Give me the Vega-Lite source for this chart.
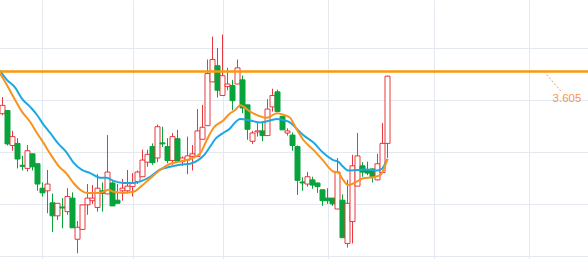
{
  "$schema": "https://vega.github.io/schema/vega-lite/v6.json",
  "width": 588,
  "height": 259,
  "padding": 0,
  "autosize": {"type": "none"},
  "background": "white",
  "config": {
    "view": {"stroke": null},
    "axis": {"domain": false, "ticks": false, "labels": false, "title": null, "gridColor": "#e4e9f0", "gridWidth": 1, "minExtent": 0, "maxExtent": 0, "offset": 0, "labelPadding": 0, "tickSize": 0}
  },
  "datasets": {
    "candles": [
      {"i":1,"o":3.524,"h":3.556,"l":3.521,"c":3.540},
      {"i":2,"o":3.530,"h":3.530,"l":3.463,"c":3.466},
      {"i":3,"o":3.463,"h":3.491,"l":3.453,"c":3.480},
      {"i":4,"o":3.467,"h":3.477,"l":3.419,"c":3.437},
      {"i":5,"o":3.425,"h":3.443,"l":3.415,"c":3.423},
      {"i":6,"o":3.419,"h":3.464,"l":3.413,"c":3.453},
      {"i":7,"o":3.447,"h":3.447,"l":3.415,"c":3.422},
      {"i":8,"o":3.428,"h":3.428,"l":3.376,"c":3.389},
      {"i":9,"o":3.381,"h":3.392,"l":3.365,"c":3.372},
      {"i":10,"o":3.376,"h":3.416,"l":3.333,"c":3.389},
      {"i":11,"o":3.353,"h":3.371,"l":3.297,"c":3.328},
      {"i":12,"o":3.328,"h":3.352,"l":3.320,"c":3.352},
      {"i":13,"o":3.345,"h":3.362,"l":3.304,"c":3.343},
      {"i":14,"o":3.336,"h":3.381,"l":3.330,"c":3.365},
      {"i":15,"o":3.362,"h":3.373,"l":3.305,"c":3.305},
      {"i":16,"o":3.283,"h":3.318,"l":3.256,"c":3.306},
      {"i":17,"o":3.302,"h":3.349,"l":3.302,"c":3.349},
      {"i":18,"o":3.349,"h":3.389,"l":3.330,"c":3.362},
      {"i":19,"o":3.357,"h":3.387,"l":3.351,"c":3.362},
      {"i":20,"o":3.344,"h":3.408,"l":3.336,"c":3.381},
      {"i":21,"o":3.376,"h":3.392,"l":3.336,"c":3.371},
      {"i":22,"o":3.370,"h":3.483,"l":3.370,"c":3.412},
      {"i":23,"o":3.391,"h":3.394,"l":3.347,"c":3.347},
      {"i":24,"o":3.358,"h":3.389,"l":3.352,"c":3.352},
      {"i":25,"o":3.376,"h":3.399,"l":3.357,"c":3.381},
      {"i":26,"o":3.376,"h":3.416,"l":3.371,"c":3.385},
      {"i":27,"o":3.384,"h":3.410,"l":3.365,"c":3.391},
      {"i":28,"o":3.394,"h":3.415,"l":3.389,"c":3.412},
      {"i":29,"o":3.403,"h":3.455,"l":3.403,"c":3.435},
      {"i":30,"o":3.431,"h":3.455,"l":3.422,"c":3.446},
      {"i":31,"o":3.461,"h":3.467,"l":3.426,"c":3.430},
      {"i":32,"o":3.439,"h":3.503,"l":3.431,"c":3.499},
      {"i":33,"o":3.468,"h":3.499,"l":3.460,"c":3.466},
      {"i":34,"o":3.461,"h":3.477,"l":3.429,"c":3.434},
      {"i":35,"o":3.434,"h":3.487,"l":3.426,"c":3.480},
      {"i":36,"o":3.476,"h":3.493,"l":3.433,"c":3.433},
      {"i":37,"o":3.432,"h":3.442,"l":3.424,"c":3.439},
      {"i":38,"o":3.435,"h":3.480,"l":3.408,"c":3.443},
      {"i":39,"o":3.442,"h":3.464,"l":3.415,"c":3.447},
      {"i":40,"o":3.442,"h":3.533,"l":3.442,"c":3.491},
      {"i":41,"o":3.475,"h":3.541,"l":3.475,"c":3.498},
      {"i":42,"o":3.501,"h":3.628,"l":3.501,"c":3.601},
      {"i":43,"o":3.585,"h":3.672,"l":3.585,"c":3.628},
      {"i":44,"o":3.616,"h":3.650,"l":3.555,"c":3.569},
      {"i":45,"o":3.559,"h":3.676,"l":3.559,"c":3.597},
      {"i":46,"o":3.576,"h":3.612,"l":3.569,"c":3.581},
      {"i":47,"o":3.578,"h":3.589,"l":3.531,"c":3.549},
      {"i":48,"o":3.581,"h":3.628,"l":3.581,"c":3.612},
      {"i":49,"o":3.589,"h":3.597,"l":3.525,"c":3.535},
      {"i":50,"o":3.541,"h":3.541,"l":3.474,"c":3.494},
      {"i":51,"o":3.471,"h":3.491,"l":3.466,"c":3.487},
      {"i":52,"o":3.489,"h":3.506,"l":3.480,"c":3.491},
      {"i":53,"o":3.491,"h":3.510,"l":3.471,"c":3.482},
      {"i":54,"o":3.482,"h":3.552,"l":3.482,"c":3.533},
      {"i":55,"o":3.537,"h":3.572,"l":3.528,"c":3.559},
      {"i":56,"o":3.566,"h":3.570,"l":3.528,"c":3.528},
      {"i":57,"o":3.519,"h":3.519,"l":3.493,"c":3.493},
      {"i":58,"o":3.487,"h":3.496,"l":3.482,"c":3.491},
      {"i":59,"o":3.483,"h":3.488,"l":3.453,"c":3.463},
      {"i":60,"o":3.461,"h":3.463,"l":3.368,"c":3.396},
      {"i":61,"o":3.393,"h":3.402,"l":3.376,"c":3.391},
      {"i":62,"o":3.389,"h":3.412,"l":3.384,"c":3.403},
      {"i":63,"o":3.397,"h":3.403,"l":3.380,"c":3.387},
      {"i":64,"o":3.391,"h":3.392,"l":3.372,"c":3.384},
      {"i":65,"o":3.378,"h":3.378,"l":3.347,"c":3.357},
      {"i":66,"o":3.362,"h":3.381,"l":3.351,"c":3.357},
      {"i":67,"o":3.362,"h":3.362,"l":3.347,"c":3.351},
      {"i":68,"o":3.341,"h":3.439,"l":3.341,"c":3.412},
      {"i":69,"o":3.358,"h":3.369,"l":3.286,"c":3.286},
      {"i":70,"o":3.275,"h":3.397,"l":3.267,"c":3.352},
      {"i":71,"o":3.317,"h":3.445,"l":3.275,"c":3.424},
      {"i":72,"o":3.385,"h":3.487,"l":3.385,"c":3.443},
      {"i":73,"o":3.424,"h":3.431,"l":3.403,"c":3.412},
      {"i":74,"o":3.415,"h":3.432,"l":3.406,"c":3.410},
      {"i":75,"o":3.418,"h":3.419,"l":3.392,"c":3.403},
      {"i":76,"o":3.397,"h":3.447,"l":3.396,"c":3.428},
      {"i":77,"o":3.411,"h":3.506,"l":3.411,"c":3.467},
      {"i":78,"o":3.467,"h":3.597,"l":3.439,"c":3.596}
    ],
    "maFast": [
      {"i":0.5,"v":3.601},{"i":1.54,"v":3.585},{"i":3.2,"v":3.556},{"i":4.88,"v":3.528},{"i":6.54,"v":3.508},
      {"i":7.88,"v":3.487},{"i":9.2,"v":3.468},{"i":10.54,"v":3.447},{"i":12.2,"v":3.424},{"i":13.88,"v":3.408},
      {"i":15.2,"v":3.391},{"i":16.54,"v":3.378},{"i":17.88,"v":3.372},{"i":19.88,"v":3.372},{"i":21.2,"v":3.374},
      {"i":22.2,"v":3.378},{"i":23.2,"v":3.374},{"i":25.2,"v":3.372},{"i":27.2,"v":3.374},{"i":28.54,"v":3.383},
      {"i":30.54,"v":3.400},{"i":32.54,"v":3.416},{"i":34.54,"v":3.428},{"i":36.54,"v":3.432},{"i":38.54,"v":3.437},
      {"i":40.54,"v":3.448},{"i":41.88,"v":3.474},{"i":43.14,"v":3.496},{"i":45.14,"v":3.511},{"i":46.54,"v":3.525},
      {"i":47.54,"v":3.531},{"i":48.54,"v":3.540},{"i":50.54,"v":3.528},{"i":53.14,"v":3.517},{"i":53.88,"v":3.516},
      {"i":55.88,"v":3.525},{"i":57.2,"v":3.522},{"i":58.54,"v":3.516},{"i":59.54,"v":3.499},{"i":61.14,"v":3.474},
      {"i":63.14,"v":3.455},{"i":65.14,"v":3.434},{"i":67.14,"v":3.413},{"i":68.14,"v":3.411},{"i":69.14,"v":3.397},
      {"i":70.14,"v":3.387},{"i":71.94,"v":3.394},{"i":73.14,"v":3.400},{"i":75.14,"v":3.402},{"i":76.54,"v":3.406},
      {"i":77.14,"v":3.415},{"i":78,"v":3.437}
    ],
    "maSlow": [
      {"i":0.5,"v":3.607},{"i":1.88,"v":3.589},{"i":3.54,"v":3.574},{"i":4.88,"v":3.553},{"i":6.54,"v":3.537},
      {"i":7.88,"v":3.522},{"i":9.2,"v":3.503},{"i":10.54,"v":3.487},{"i":12.2,"v":3.466},{"i":13.88,"v":3.449},
      {"i":15.2,"v":3.430},{"i":16.88,"v":3.416},{"i":18.54,"v":3.410},{"i":20.54,"v":3.401},{"i":21.88,"v":3.401},
      {"i":23.2,"v":3.395},{"i":25.2,"v":3.391},{"i":27.2,"v":3.391},{"i":28.54,"v":3.394},{"i":30.54,"v":3.403},
      {"i":32.54,"v":3.417},{"i":34.54,"v":3.422},{"i":36.54,"v":3.426},{"i":38.54,"v":3.428},{"i":40.14,"v":3.435},
      {"i":41.54,"v":3.447},{"i":42.54,"v":3.461},{"i":43.54,"v":3.475},{"i":45.14,"v":3.487},{"i":46.54,"v":3.496},
      {"i":47.14,"v":3.503},{"i":48.54,"v":3.514},{"i":50.54,"v":3.511},{"i":52.54,"v":3.507},{"i":54.54,"v":3.511},
      {"i":55.88,"v":3.514},{"i":57.54,"v":3.511},{"i":58.54,"v":3.507},{"i":59.54,"v":3.498},{"i":61.14,"v":3.483},
      {"i":63.14,"v":3.469},{"i":65.14,"v":3.449},{"i":67.14,"v":3.435},{"i":68.14,"v":3.432},{"i":69.14,"v":3.422},
      {"i":70.14,"v":3.415},{"i":71.94,"v":3.416},{"i":73.94,"v":3.417},{"i":75.94,"v":3.415},{"i":76.94,"v":3.419},
      {"i":78,"v":3.437}
    ],
    "level": [{"price": 3.605, "label": "3.605"}]
  },
  "layer": [
    {
      "data": {"name": "candles"},
      "mark": {"type": "rule", "strokeWidth": 1},
      "encoding": {
        "x": {"field": "i", "type": "quantitative",
              "scale": {"domain": [0.5, 118.1], "nice": false, "zero": false, "padding": 0},
              "axis": {"grid": true, "values": [8.9, 27.1, 45.1, 66.1, 87.3, 106.3]}},
        "y": {"field": "l", "type": "quantitative",
              "scale": {"domain": [3.24511, 3.74223], "nice": false, "zero": false, "padding": 0},
              "axis": {"grid": true, "values": [3.25, 3.3, 3.35, 3.4, 3.45, 3.5, 3.55, 3.6, 3.65, 3.7]}},
        "y2": {"field": "h"},
        "color": {"condition": {"test": "datum.c >= datum.o", "value": "#e8383d"}, "value": "#08a33a"}
      }
    },
    {
      "data": {"name": "candles"},
      "mark": {"type": "bar", "continuousBandSize": 2, "strokeWidth": 1},
      "encoding": {
        "x": {"field": "i", "type": "quantitative"},
        "y": {"field": "o", "type": "quantitative"},
        "y2": {"field": "c"},
        "fill": {"condition": {"test": "datum.c >= datum.o", "value": "#ffffff"}, "value": "#08a33a"},
        "stroke": {"condition": {"test": "datum.c >= datum.o", "value": "#e8383d"}, "value": "#08a33a"}
      }
    },
    {
      "data": {"name": "maSlow"},
      "mark": {"type": "line", "color": "#1fa8e0", "strokeWidth": 2, "interpolate": "monotone"},
      "encoding": {
        "x": {"field": "i", "type": "quantitative"},
        "y": {"field": "v", "type": "quantitative"}
      }
    },
    {
      "data": {"name": "maFast"},
      "mark": {"type": "line", "color": "#f7931e", "strokeWidth": 2, "interpolate": "monotone"},
      "encoding": {
        "x": {"field": "i", "type": "quantitative"},
        "y": {"field": "v", "type": "quantitative"}
      }
    },
    {
      "data": {"name": "level"},
      "mark": {"type": "rule", "color": "#f99a0c", "strokeWidth": 2.5},
      "encoding": {"y": {"field": "price", "type": "quantitative"}}
    },
    {
      "data": {"name": "level"},
      "mark": {"type": "rule", "color": "#f7a05a", "strokeWidth": 1, "strokeDash": [2, 2]},
      "encoding": {
        "x": {"datum": 109.3}, "y": {"field": "price", "type": "quantitative"},
        "x2": {"datum": 112.7}, "y2": {"datum": 3.567}
      }
    },
    {
      "data": {"name": "level"},
      "mark": {"type": "text", "color": "#f7954a", "font": "Liberation Sans", "fontSize": 11.5, "align": "center", "baseline": "middle"},
      "encoding": {"x": {"datum": 113.9}, "y": {"datum": 3.553}, "text": {"field": "label"}}
    }
  ]
}
